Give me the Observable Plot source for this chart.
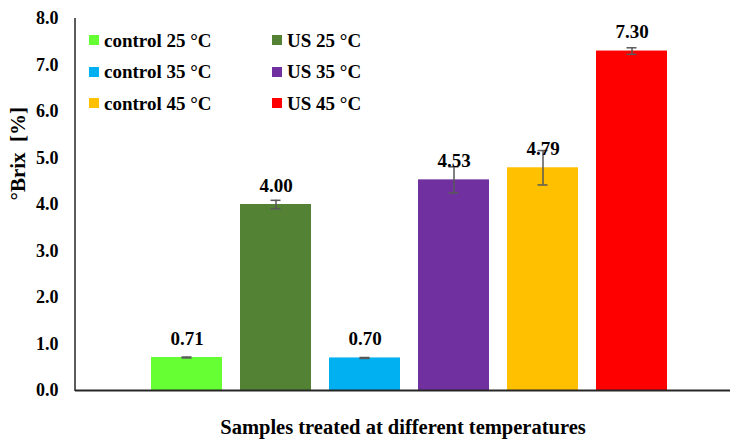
<!DOCTYPE html>
<html>
<head>
<meta charset="utf-8">
<script src="https://cdn.jsdelivr.net/npm/d3@7"></script>
<script src="https://cdn.jsdelivr.net/npm/@observablehq/plot@0.6"></script>
<style>
  body { margin: 0; background: #fff; }
  #wrap { position: relative; width: 730px; height: 444px; font-family: "Liberation Serif", "Times New Roman", serif; }
  .leg { position: absolute; display: flex; align-items: center; font-weight: bold; font-size: 19px; color: #000; white-space: nowrap; line-height: 1; }
  .sw { width: 10px; height: 10px; margin-right: 5px; flex: none; }
  .ylab text { white-space: pre; }
</style>
</head>
<body>
<div id="wrap"></div>
<script>
const categories = ["control 25 °C", "US 25 °C", "control 35 °C", "US 35 °C", "control 45 °C", "US 45 °C"];
const values = [0.71, 4.00, 0.70, 4.53, 4.79, 7.30];
const errors = [0.01, 0.09, 0.01, 0.28, 0.37, 0.07];
const colors = ["#66FF33", "#548235", "#00B0F0", "#7030A0", "#FFC000", "#FF0000"];
const yTicks = [0, 1, 2, 3, 4, 5, 6, 7, 8];
const yLabel = "°Brix  [%]";
const xLabel = "Samples treated at different temperatures";

const data = categories.map((c, i) => ({cat: c, value: values[i], err: errors[i]}));

const chart = Plot.plot({
  width: 730,
  height: 444,
  marginLeft: 75,
  marginRight: 0,
  marginTop: 18,
  marginBottom: 54,
  style: {fontFamily: "Liberation Serif, Times New Roman, serif", color: "#000", background: "#fff"},
  x: {type: "band", domain: categories, range: [142.1, 676.1], paddingInner: 0.2, paddingOuter: 0.1, axis: null},
  y: {domain: [0, 8], axis: null},
  color: {domain: categories, range: colors},
  marks: [
    Plot.barY(data, {x: "cat", y: "value", fill: "cat"}),
    Plot.ruleX(data, {x: "cat", y1: d => d.value - d.err, y2: d => d.value + d.err, stroke: "#595959", strokeWidth: 1.5}),
    Plot.tickY(data, {x: "cat", y: d => d.value - d.err, stroke: "#595959", strokeWidth: 1.5, insetLeft: 30.5, insetRight: 30.5}),
    Plot.tickY(data, {x: "cat", y: d => d.value + d.err, stroke: "#595959", strokeWidth: 1.5, insetLeft: 30.5, insetRight: 30.5}),
    Plot.text(data, {x: "cat", y: "value", text: d => d3.format(".2f")(d.value), dy: -19, fontSize: 19, fontWeight: "bold", fill: "#000"}),
    Plot.axisY({ticks: yTicks, tickFormat: d3.format(".1f"), tickSize: 0, tickPadding: 17, fontSize: 18, fontWeight: "bold", label: null, fill: "#000"}),
    Plot.ruleY([0], {stroke: "#262626", strokeWidth: 2}),
    Plot.text([yLabel], {frameAnchor: "left", rotate: -90, dx: -57, dy: -4, fontSize: 21, fontWeight: "bold", fill: "#000", className: "ylab"}),
    Plot.text([xLabel], {frameAnchor: "bottom", dy: 43, fontSize: 20.5, fontWeight: "bold", fill: "#000"})
  ]
});

// vertical axis line at the left edge of the frame
const y = chart.scale("y");
d3.select(chart).append("line")
  .attr("x1", 75).attr("x2", 75)
  .attr("y1", y.apply(8)).attr("y2", y.apply(0) + 1)
  .attr("stroke", "#262626").attr("stroke-width", 1.5);

const wrap = document.getElementById("wrap");
wrap.appendChild(chart);

// legend overlay (2 columns x 3 rows)
categories.forEach((c, i) => {
  const col = i % 2, row = Math.floor(i / 2);
  const el = document.createElement("div");
  el.className = "leg";
  el.style.left = (col === 0 ? 89 : 272) + "px";
  el.style.top = (40 + row * 31.5 - 10) + "px";
  el.style.height = "20px";
  const sw = document.createElement("span");
  sw.className = "sw";
  sw.style.background = colors[i];
  el.appendChild(sw);
  el.appendChild(document.createTextNode(c));
  wrap.appendChild(el);
});
</script>
</body>
</html>
